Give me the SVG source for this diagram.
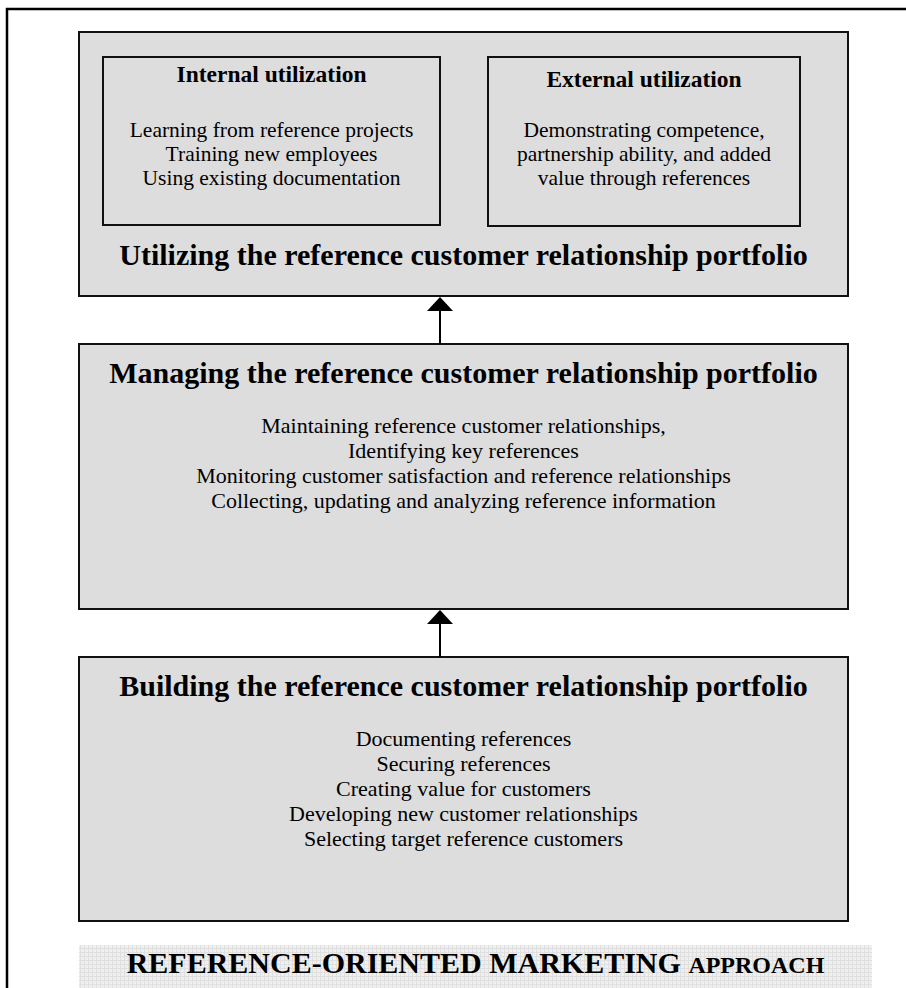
<svg xmlns="http://www.w3.org/2000/svg" width="906" height="988" viewBox="0 0 906 988">
<style>
  .box { fill: #dddddd; stroke: #111; stroke-width: 2; }
  .title { font-family: "Liberation Serif", "Times New Roman", serif; font-weight: bold; font-size: 30px; text-anchor: middle; fill: #000; }
  .sub { font-family: "Liberation Serif", "Times New Roman", serif; font-weight: bold; font-size: 23.5px; text-anchor: middle; fill: #000; }
  .body { font-family: "Liberation Serif", "Times New Roman", serif; font-size: 22px; text-anchor: middle; fill: #000; }
  .ibody { font-size: 21.5px; }
  .conn { stroke: #000; stroke-width: 2; fill: none; }
</style>
<defs>
  <marker id="arrow" viewBox="0 0 14 26" refX="13" refY="13" markerWidth="14" markerHeight="26" markerUnits="userSpaceOnUse" orient="auto">
    <path d="M0,0 L14,13 L0,26 Z" fill="#000"/>
  </marker>
  <pattern id="grid" width="4" height="4" patternUnits="userSpaceOnUse">
    <rect width="4" height="4" fill="#efefef"/>
    <path d="M0,0.5 H4 M0.5,0 V4" stroke="#e0e0e0" stroke-width="1"/>
  </pattern>
</defs>
<rect width="906" height="988" fill="#fff"/>
<path d="M7,988 V9 H906" fill="none" stroke="#000" stroke-width="2.5"/>

<g id="utilizing">
  <rect class="box" x="79" y="32" width="769" height="264"/>
  <text class="title" x="463.5" y="265">Utilizing the reference customer relationship portfolio</text>
</g>
<g id="internal">
  <rect class="box" x="103" y="57" width="337" height="168"/>
  <text class="sub" x="271.5" y="82">Internal utilization</text>
  <text class="body ibody" x="271.5" y="137">Learning from reference projects</text>
  <text class="body ibody" x="271.5" y="161">Training new employees</text>
  <text class="body ibody" x="271.5" y="185">Using existing documentation</text>
</g>
<g id="external">
  <rect class="box" x="488" y="57" width="312" height="169"/>
  <text class="sub" x="644" y="87">External utilization</text>
  <text class="body ibody" x="644" y="137">Demonstrating competence,</text>
  <text class="body ibody" x="644" y="161">partnership ability, and added</text>
  <text class="body ibody" x="644" y="185">value through references</text>
</g>
<g id="managing">
  <rect class="box" x="79" y="344" width="769" height="265"/>
  <text class="title" x="463.5" y="383">Managing the reference customer relationship portfolio</text>
  <text class="body" x="463.5" y="433">Maintaining reference customer relationships,</text>
  <text class="body" x="463.5" y="458">Identifying key references</text>
  <text class="body" x="463.5" y="483">Monitoring customer satisfaction and reference relationships</text>
  <text class="body" x="463.5" y="508">Collecting, updating and analyzing reference information</text>
</g>
<g id="building">
  <rect class="box" x="79" y="657" width="769" height="264"/>
  <text class="title" x="463.5" y="696">Building the reference customer relationship portfolio</text>
  <text class="body" x="463.5" y="746">Documenting references</text>
  <text class="body" x="463.5" y="771">Securing references</text>
  <text class="body" x="463.5" y="796">Creating value for customers</text>
  <text class="body" x="463.5" y="821">Developing new customer relationships</text>
  <text class="body" x="463.5" y="846">Selecting target reference customers</text>
</g>
<g id="banner">
  <rect x="79" y="945" width="793" height="43" fill="url(#grid)"/>
  <text x="475.5" y="973" font-family="'Liberation Serif', 'Times New Roman', serif" font-weight="bold" font-size="30" text-anchor="middle">REFERENCE-ORIENTED MARKETING <tspan font-size="24">APPROACH</tspan></text>
</g>
<g id="connectors">
  <line class="conn" x1="440" y1="344" x2="440" y2="298" marker-end="url(#arrow)"/>
  <line class="conn" x1="440" y1="657" x2="440" y2="611" marker-end="url(#arrow)"/>
</g>
</svg>
